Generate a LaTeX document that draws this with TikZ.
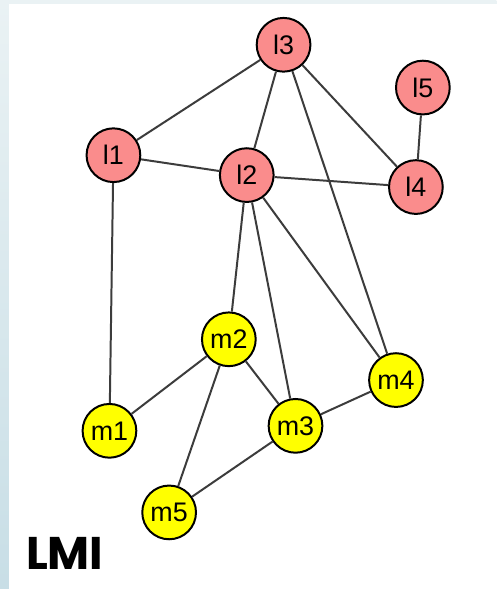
\documentclass[tikz,border=0pt]{standalone}
\usepackage{fontspec}
\setmainfont{Liberation Sans}
\newfontfamily\lmifont{Poppins}
\definecolor{pinkn}{RGB}{250,140,140}
\definecolor{yelln}{RGB}{255,255,0}
\definecolor{edgec}{RGB}{60,60,60}
\definecolor{bgtop}{RGB}{234,242,244}
\definecolor{bgbot}{RGB}{200,222,230}
\begin{document}
\begin{tikzpicture}[x=1pt,y=-1pt,
  vnode/.style={circle,draw=black,line width=2pt,minimum size=54pt,inner sep=0pt,
     font=\fontsize{27}{27}\selectfont},
  lnode/.style={vnode,fill=pinkn},
  mnode/.style={vnode,fill=yelln},
  edge/.style={draw=edgec,line width=2pt}]
\shade[top color=bgtop,bottom color=bgbot] (0,0) rectangle (499,591);
\fill[white] (9,4) rectangle (502,594);
\useasboundingbox (0,0) rectangle (499,591);
\node[lnode] (l3) at (285,45) {l3};
\node[lnode] (l5) at (425,88) {l5};
\node[lnode] (l1) at (114,156) {l1};
\node[lnode] (l2) at (248,176) {l2};
\node[lnode] (l4) at (418,188) {l4};
\node[mnode] (m2) at (230,341) {m2};
\node[mnode] (m4) at (398,382) {m4};
\node[mnode] (m3) at (297,428) {m3};
\node[mnode] (m1) at (110,433) {m1};
\node[mnode] (m5) at (170,515) {m5};
\path[edge] (l3) -- (l1) (l3) -- (l2) (l3) -- (m4) (l3) -- (l4)
  (l5) -- (l4) (l1) -- (l2) (l2) -- (l4) (l1) -- (m1)
  (l2) -- (m2) (l2) -- (m3) (l2) -- (m4)
  (m2) -- (m1) (m2) -- (m3) (m2) -- (m5) (m3) -- (m4) (m3) -- (m5);
\node[anchor=base west,inner sep=0pt,font=\lmifont\bfseries\fontsize{46}{46}\selectfont] (lmi) at (26,572) {LMI};
\end{tikzpicture}
\end{document}
